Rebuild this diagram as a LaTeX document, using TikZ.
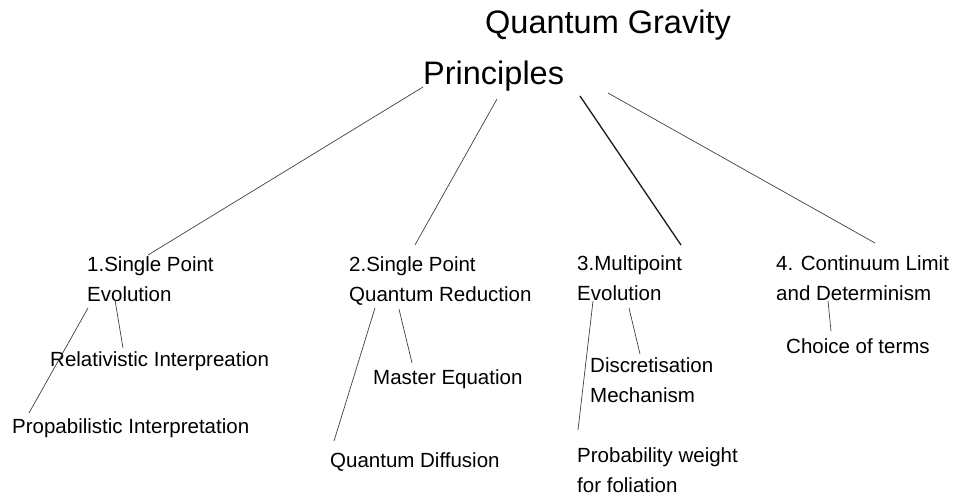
\documentclass[tikz,border=0pt]{standalone}
\usepackage{fontspec}
\setmainfont{Liberation Sans}
\begin{document}
\begin{tikzpicture}[x=1pt,y=-1pt,
  every node/.style={inner sep=0pt,anchor=base west,align=left,
    font=\fontsize{20.5}{30}\selectfont},
  titletext/.style={font=\fontsize{32.5}{40}\selectfont},
  branch/.style={black!75,line width=0.7pt},
  mainbranch/.style={black!90,line width=1.3pt}]
  \useasboundingbox (0,0) rectangle (954,499);
  % Title in two lines
  \node[titletext] (qgtop) at (485,33) {Quantum Gravity};
  \node[titletext] (qg) at (423,84) {Principles};
  % The four principles (base = last line)
  \node (spe) at (87,301) {1.Single Point\\Evolution};
  \node (spq) at (349,301) {2.Single Point\\Quantum Reduction};
  \node (mpe) at (577,300) {3.Multipoint\\Evolution};
  \node (cld) at (776,300) {4. Continuum Limit\\and Determinism};
  % Sub items
  \node (rel) at (50,366) {Relativistic Interpreation};
  \node (prob) at (12,433) {Propabilistic Interpretation};
  \node (mast) at (373,384) {Master Equation};
  \node (diff) at (330,467) {Quantum Diffusion};
  \node (disc) at (590,402) {Discretisation\\Mechanism};
  \node (fol) at (577,492) {Probability weight\\for foliation};
  \node (choice) at (786,353) {Choice of terms};
  % Connectors (shifts from each node's base west)
  \foreach \a/\ax/\ay/\b/\bx/\by in {qg/0/3/spe/61/-46, qg/74/15/spq/66/-56,
      qg/185/9/cld/99/-57, spe/28/-1/rel/73/-18, spe/1/7/prob/17/-20,
      spq/50/8/mast/39/-21, spq/26/7/diff/4/-26, mpe/52/8/disc/50/-48,
      mpe/16/1/fol/1/-62, cld/52/1/choice/45/-22}
    \draw[branch] ([shift={(\ax,\ay)}]\a.base west) -- ([shift={(\bx,\by)}]\b.base west);
  \draw[mainbranch] ([shift={(157,12)}]qg.base west) -- ([shift={(104,-55)}]mpe.base west);
\end{tikzpicture}
\end{document}
